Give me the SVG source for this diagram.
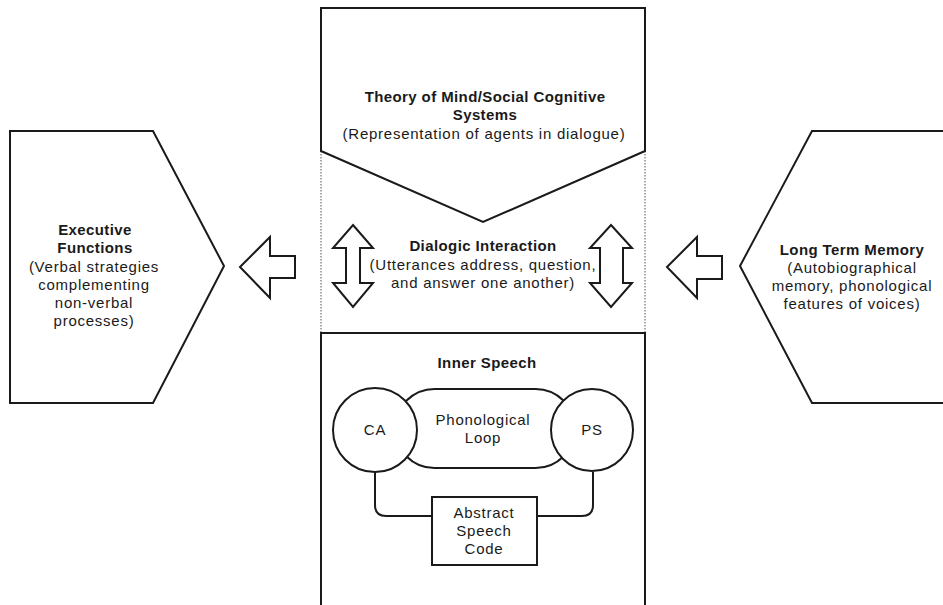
<svg xmlns="http://www.w3.org/2000/svg" width="943" height="605" viewBox="0 0 943 605">
<style>
.s{fill:#fff;stroke:#1a1a1a;stroke-width:2;stroke-linejoin:miter}
.d{fill:none;stroke:#555;stroke-width:1;stroke-dasharray:1.5 1.5}
.c{fill:none;stroke:#1a1a1a;stroke-width:2}
text{font-family:"Liberation Sans",Arial,sans-serif;font-size:15px;fill:#1a1a1a;text-anchor:middle;letter-spacing:0.75px}
.b{font-weight:bold;letter-spacing:0.4px}
</style>
<rect width="943" height="605" fill="#fff"/>
<g id="dialogic">
<line class="d" x1="321" y1="151" x2="321" y2="333"/>
<line class="d" x1="645" y1="151" x2="645" y2="333"/>
<text class="b" x="483" y="251">Dialogic Interaction</text>
<text x="483" y="270">(Utterances address, question,</text>
<text x="483" y="288">and answer one another)</text>
</g>
<g id="tom">
<path class="s" d="M321,8 H645 V151 L483,222 L321,151 Z"/>
<text class="b" x="485" y="102">Theory of Mind/Social Cognitive</text>
<text class="b" x="485" y="120">Systems</text>
<text x="484" y="139">(Representation of agents in dialogue)</text>
</g>
<g id="inner">
<rect class="s" x="321" y="333" width="324" height="290"/>
<text class="b" x="487" y="368">Inner Speech</text>
</g>
<g id="exec">
<path class="s" d="M10,131 H153 L224,266 L153,403 H10 Z"/>
<text class="b" x="95" y="235">Executive</text>
<text class="b" x="95" y="253">Functions</text>
<text x="94" y="272">(Verbal strategies</text>
<text x="94" y="290">complementing</text>
<text x="94" y="308">non-verbal</text>
<text x="94" y="326">processes)</text>
</g>
<g id="ltm">
<path class="s" d="M960,131 H812 L740,266 L812,403 H960 Z"/>
<text class="b" x="852" y="255">Long Term Memory</text>
<text x="852" y="273">(Autobiographical</text>
<text x="852" y="291">memory, phonological</text>
<text x="852" y="309">features of voices)</text>
</g>
<g id="connectors">
<path class="s" d="M240,267 L270,237 V256 H295 V278 H270 V298 Z"/>
<path class="s" d="M667,267 L697,237 V256 H722 V279 H697 V298 Z"/>
<path class="s" d="M353,225 L373,248 H360 V283 H373 L353,307 L333,283 H346 V248 H333 Z"/>
<path class="s" d="M611,225 L632,248 H623 V283 H632 L611,307 L590,283 H600 V248 H590 Z"/>
<path class="c" d="M375,472 V505 Q375,516 386,516 H432"/>
<path class="c" d="M593,472 V505 Q593,516 582,516 H537"/>
</g>
<g id="loop">
<rect class="s" x="395" y="389" width="180" height="79" rx="39.5"/>
<text x="483" y="425">Phonological</text>
<text x="483" y="443">Loop</text>
</g>
<g id="ca">
<circle class="s" cx="375" cy="430" r="42"/>
<text x="375" y="435">CA</text>
</g>
<g id="ps">
<circle class="s" cx="592" cy="430" r="41"/>
<text x="592" y="435">PS</text>
</g>
<g id="asc">
<rect class="s" x="432" y="497" width="105" height="68"/>
<text x="484" y="518">Abstract</text>
<text x="484" y="536">Speech</text>
<text x="484" y="554">Code</text>
</g>
</svg>
